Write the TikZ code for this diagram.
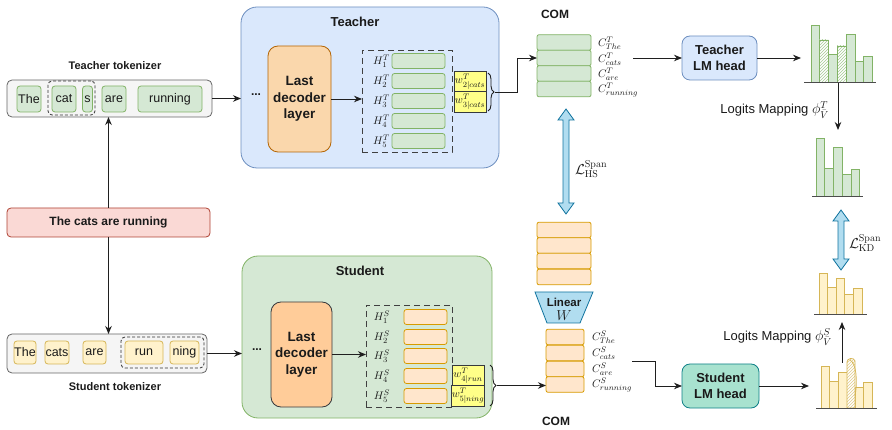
\documentclass[tikz,border=0pt]{standalone}
\usepackage[no-math]{fontspec}
\setmainfont{Liberation Sans}
\usetikzlibrary{arrows.meta,shapes.geometric,decorations.pathreplacing,patterns,calc}
\definecolor{gfill}{HTML}{D5E8D4}\definecolor{gline}{HTML}{82B366}
\definecolor{bfill}{HTML}{DAE8FC}\definecolor{bline}{HTML}{6C8EBF}
\definecolor{ofill}{HTML}{FFE6CC}\definecolor{oline}{HTML}{D79B00}
\definecolor{yfill}{HTML}{FFF2CC}\definecolor{yline}{HTML}{D6B656}
\definecolor{lfill}{HTML}{FAD7AC}\definecolor{lline}{HTML}{B46504}
\definecolor{sfill}{HTML}{FFCC99}\definecolor{dline}{HTML}{36393D}
\definecolor{wfill}{HTML}{FFFF88}
\definecolor{rfill}{HTML}{FAD9D5}\definecolor{rline}{HTML}{AE4132}
\definecolor{grayfill}{HTML}{F5F5F5}\definecolor{grayline}{HTML}{666666}
\definecolor{cfill}{HTML}{B1DDF0}\definecolor{cline}{HTML}{10739E}
\definecolor{tfill}{HTML}{A8E2CF}\definecolor{tline}{HTML}{0E8088}
\definecolor{txt}{HTML}{1A1A1A}
\newcommand\fatarrow[3]{%
 \draw[cline, fill=cfill, line width=0.8pt, line join=miter]
  ({#1-3},{#2+11}) -- ({#1-8},{#2+11}) -- (#1,#2) -- ({#1+8},{#2+11}) -- ({#1+3},{#2+11})
  -- ({#1+3},{#3-11}) -- ({#1+8},{#3-11}) -- (#1,#3) -- ({#1-8},{#3-11}) -- ({#1-3},{#3-11}) -- cycle;}
\newcommand\bigmath[1]{{\fontsize{14.4}{15}\selectfont$#1$}}
\begin{document}
\begin{tikzpicture}[x=1pt,y=-1pt,
 base/.style={inner sep=0pt, outer sep=0pt, align=center, text=txt},
 lbl/.style={base, font=\fontsize{12}{14}\selectfont\bfseries},
 title/.style={base, font=\fontsize{13}{15}\selectfont\bfseries},
 tokbox/.style={base, draw=grayline, fill=grayfill, line width=0.8pt, rounded corners=5pt},
 gtok/.style={base, draw=gline, fill=gfill, line width=0.8pt, rounded corners=3pt, minimum height=26pt, font=\fontsize{12.5}{14}\selectfont},
 ytok/.style={base, draw=yline, fill=yfill, line width=0.8pt, rounded corners=3pt, minimum height=23pt, font=\fontsize{12.5}{14}\selectfont},
 grp/.style={base, draw=black!80, dash pattern=on 3pt off 2pt, line width=0.8pt, rounded corners=4pt},
 bigdash/.style={base, draw=black!75, dash pattern=on 6pt off 4pt, line width=0.9pt},
 lastlayer/.style={base, line width=0.8pt, rounded corners=10pt, font=\fontsize{13.5}{16.5}\selectfont\bfseries},
 hl/.style={base, font=\fontsize{10.95}{12}\selectfont},
 gbarh/.style={base, draw=gline, fill=gfill, line width=0.8pt, rounded corners=2.5pt, minimum width=53pt, minimum height=15pt},
 obarh/.style={base, draw=oline, fill=ofill, line width=0.8pt, rounded corners=2.5pt, minimum width=43pt, minimum height=15pt},
 wbox/.style={base, draw=dline, fill=wfill, line width=0.8pt, minimum width=32pt, minimum height=20.5pt, font=\fontsize{10.95}{12}\selectfont},
 gcom/.style={base, draw=gline, fill=gfill, line width=0.8pt, rounded corners=2pt, minimum width=54pt, minimum height=15.6pt},
 ocom/.style={base, draw=oline, fill=ofill, line width=0.8pt, rounded corners=2pt, minimum height=15.6pt},
 clab/.style={base, anchor=west, font=\fontsize{10.95}{12}\selectfont},
 head/.style={base, line width=0.8pt, rounded corners=8pt, font=\fontsize{13}{16}\selectfont\bfseries},
 arr/.style={draw=black!88, line width=0.9pt, -{Stealth[length=8pt,width=6.5pt]}},
 ln/.style={draw=black!88, line width=0.9pt},
 gb/.style={draw=gline, fill=gfill, line width=0.8pt},
 yb/.style={draw=yline, fill=yfill, line width=0.8pt},
 axis/.style={draw=black!70, line width=0.9pt},
]
\useasboundingbox (0,0) rectangle (892,430);

% ---------------- tokenizers and sentence
\node[lbl, font=\fontsize{11}{13}\selectfont\bfseries] (ttoklbl) at (115,66) {Teacher tokenizer};
\node[tokbox, minimum width=205pt, minimum height=37pt] (ttok) at (109.5,98.5) {};
\node[grp, minimum width=47pt, minimum height=34pt] (tgrp) at (71.5,98) {};
\node[gtok, minimum width=24pt] (tt1) at (29,99) {The};
\node[gtok, minimum width=24pt] (tt2) at (64,99) {cat};
\node[gtok, minimum width=10pt] (tt3) at (87.5,99) {s};
\node[gtok, minimum width=24pt] (tt4) at (114,99) {are};
\node[gtok, minimum width=64pt] (tt5) at (170,99) {running};

\node[lbl, draw=rline, fill=rfill, line width=0.8pt, rounded corners=4pt, minimum width=203pt, minimum height=29pt] (sent) at (108.5,222.5) {The cats are running};

\node[tokbox, minimum width=200pt, minimum height=39pt] (stok) at (107,353.5) {};
\node[grp, minimum width=83pt, minimum height=31pt] (sgrp) at (162.5,352.5) {};
\node[ytok, minimum width=22pt] (st1) at (25,352.5) {The};
\node[ytok, minimum width=24pt] (st2) at (57,352.5) {cats};
\node[ytok, minimum width=23pt] (st3) at (94.5,352.5) {are};
\node[ytok, minimum width=38pt] (st4) at (144,352.5) {run};
\node[ytok, minimum width=29pt] (st5) at (184.5,352.5) {ning};
\node[lbl, font=\fontsize{11}{13}\selectfont\bfseries] (stoklbl) at (115,387) {Student tokenizer};

\draw[arr] (sent.north) -- (sent.north |- ttok.south);
\draw[arr] (sent.south) -- (sent.south |- stok.north);

% ---------------- teacher model
\node[base, draw=bline, fill=bfill, line width=0.8pt, rounded corners=16pt, minimum width=258pt, minimum height=161pt] (tbox) at (370,87.5) {};
\node[title] (ttitle) at (355,22) {Teacher};
\node[lbl] (tdots) at (256,95) {...};
\node[lastlayer, draw=lline, fill=lfill, minimum width=63pt, minimum height=106pt] (tlast) at (299.5,99) {Last\\decoder\\layer};
\node[bigdash, minimum width=90pt, minimum height=102pt] (tdash) at (407,101) {};
\foreach \i/\y in {1/61,2/81,3/101,4/121,5/141}{
  \node[hl] (th\i) at (381.5,\y) {$H^{T}_{\i}$};
  \node[gbarh] (tb\i) at (418.5,\y) {};
}
\node[wbox] (tw1) at (470,81.5) {$w^{T}_{2|cats}$};
\node[wbox] (tw2) at (470,102) {$w^{T}_{3|cats}$};
\draw[arr] (ttok.east) -- (ttok.east -| tbox.west);
\draw[arr] (tlast.east) -- (tlast.east -| tdash.west);
\draw[ln, decorate, decoration={brace, amplitude=6pt}] (488,73) -- (488,111);
\coordinate (tbt) at (495,92);

% ---------------- student model
\node[base, draw=gline, fill=gfill, line width=0.8pt, rounded corners=16pt, minimum width=250pt, minimum height=162pt] (sbox) at (367,337) {};
\node[title] (stitle) at (360,271) {Student};
\node[lbl] (sdots) at (257,350) {...};
\node[lastlayer, draw=dline, fill=sfill, minimum width=61pt, minimum height=105pt] (slast) at (301.5,354.5) {Last\\decoder\\layer};
\node[bigdash, minimum width=86pt, minimum height=102pt] (sdash) at (409,356) {};
\foreach \i/\y in {1/317,2/337,3/356,4/376,5/396}{
  \node[hl] (sh\i) at (382,\y) {$H^{S}_{\i}$};
  \node[obarh] (sb\i) at (425.5,\y) {};
}
\node[wbox] (sw1) at (468,375.5) {$w^{T}_{4|run}$};
\node[wbox] (sw2) at (468,396) {$w^{T}_{5|ning}$};
\draw[arr] (stok.east) -- (stok.east -| sbox.west);
\draw[arr] (slast.east) -- (slast.east -| sdash.west);
\draw[ln, decorate, decoration={brace, amplitude=6pt}] (490,365) -- (490,406);
\coordinate (sbt) at (497,385.5);

% ---------------- teacher COM
\node[lbl] (tcomlbl) at (555,14) {COM};
\foreach \i/\y in {1/42.5,2/58,3/73.5,4/89}{\node[gcom] (tc\i) at (564,\y) {};}
\node[clab] (tcl1) at (598,43) {$C^{T}_{The}$};
\node[clab] (tcl2) at (598,59) {$C^{T}_{cats}$};
\node[clab] (tcl3) at (598,74) {$C^{T}_{are}$};
\node[clab] (tcl4) at (598,90) {$C^{T}_{running}$};
\draw[arr] (tbt) -- ++(22,0) |- (tc2.west);

% ---------------- projected student stack, linear, student COM
\foreach \i/\y in {1/230,2/245.5,3/261,4/277}{\node[ocom, minimum width=54pt] (pc\i) at (564,\y) {};}
\draw[draw=cline, fill=cfill, line width=0.8pt] (535,292) -- (593,292) -- (580,323) -- (547,323) -- cycle;
\coordinate (lin) at (564,307.5);
\node[base, font=\fontsize{11.5}{13}\selectfont\bfseries] (lintxt) at (564,302) {Linear};
\node[base, font=\fontsize{14.4}{15}\selectfont] (linw) at (564,316) {$W$};
\foreach \i/\y in {1/337,2/353,3/369,4/384.5}{\node[ocom, minimum width=38pt] (sc\i) at (565,\y) {};}
\node[clab] (scl1) at (592,337) {$C^{S}_{The}$};
\node[clab] (scl2) at (592,353) {$C^{S}_{cats}$};
\node[clab] (scl3) at (592,369) {$C^{S}_{are}$};
\node[clab] (scl4) at (592,385) {$C^{S}_{running}$};
\node[lbl] (scomlbl) at (556,421) {COM};
\draw[arr] (sbt) -- (sbt -| sc4.west);

% loss HS
\fatarrow{566}{109}{214}
\node[base, anchor=west, font=\fontsize{14.4}{16}\selectfont] (lhs) at (575,169) {$\mathcal{L}^{\mathrm{Span}}_{\mathrm{HS}}$};

% ---------------- LM heads
\node[head, draw=bline, fill=bfill, minimum width=75pt, minimum height=44pt] (tlm) at (719.5,58) {Teacher\\LM head};
\node[head, draw=tline, fill=tfill, minimum width=77pt, minimum height=44pt] (slm) at (720.5,386) {Student\\LM head};
\coordinate (tcR) at (633,58);
\draw[arr] (tcR) -- (tlm.west);
\coordinate (scR) at (632,361);
\draw[arr] (scR) -- ++(23,0) |- (slm.west);
\coordinate (thist) at (801,58);
\draw[arr] (tlm.east) -- (thist);
\coordinate (shist) at (809,386);
\draw[arr] (slm.east) -- (shist);

% ---------------- teacher histograms
\foreach \a/\b/\t in {811/819/25, 828/837/54, 846/855/34, 855/863/61, 863/872/56}{\draw[gb] (\a,82) rectangle (\b,\t);}
\foreach \a/\b/\t in {819/828/40, 837/846/46}{\draw[draw=gline, line width=0.8pt, preaction={fill=white}, pattern=north east lines, pattern color=gline!70] (\a,82) rectangle (\b,\t);}
\draw[axis] (804,82.5) -- (876,82.5);
\coordinate (tmapS) at (838,83);
\coordinate (tmapE) at (838,130);
\draw[arr] (tmapS) -- (tmapE);
\node[base, anchor=east, font=\fontsize{13}{15}\selectfont] (tmaplbl) at (829,110) {Logits Mapping \bigmath{\phi^{T}_{\bar{V}}}};
\foreach \a/\b/\t in {816/824/138, 824/833/168, 833/842/147, 842/851/174, 851/859/169}{\draw[gb] (\a,196) rectangle (\b,\t);}
\draw[axis] (812,196.5) -- (863,196.5);

% loss KD
\fatarrow{841}{210}{270}
\node[base, anchor=west, font=\fontsize{14.4}{16}\selectfont] (lkd) at (849,243) {$\mathcal{L}^{\mathrm{Span}}_{\mathrm{KD}}$};

% ---------------- student histograms
\foreach \a/\b/\t in {819/827/273, 827/836/287, 836/844/278, 844/853/294, 853/862/288}{\draw[yb] (\a,314) rectangle (\b,\t);}
\draw[axis] (814,314.5) -- (867,314.5);
\coordinate (smapS) at (842,363);
\coordinate (smapE) at (842,322);
\draw[arr] (smapS) -- (smapE);
\node[base, anchor=east, font=\fontsize{13}{15}\selectfont] (smaplbl) at (832,337) {Logits Mapping \bigmath{\phi^{S}_{\bar{V}}}};
\foreach \a/\b/\t in {821/829/366, 829/838/381, 838/847/372, 855/863/387, 863/872/382}{\draw[yb] (\a,408) rectangle (\b,\t);}
\draw[draw=yline, line width=0.8pt, preaction={fill=white}, pattern=north east lines, pattern color=yline!70]
  (847,408) -- (847,362) .. controls (847,358) and (854,357) .. (855,361) -- (855,408) -- cycle;
\draw[draw=yline, line width=0.7pt] (850,360) .. controls (856,363) and (858,380) .. (855,396);
\draw[axis] (816,408.5) -- (877,408.5);
\end{tikzpicture}
\end{document}
